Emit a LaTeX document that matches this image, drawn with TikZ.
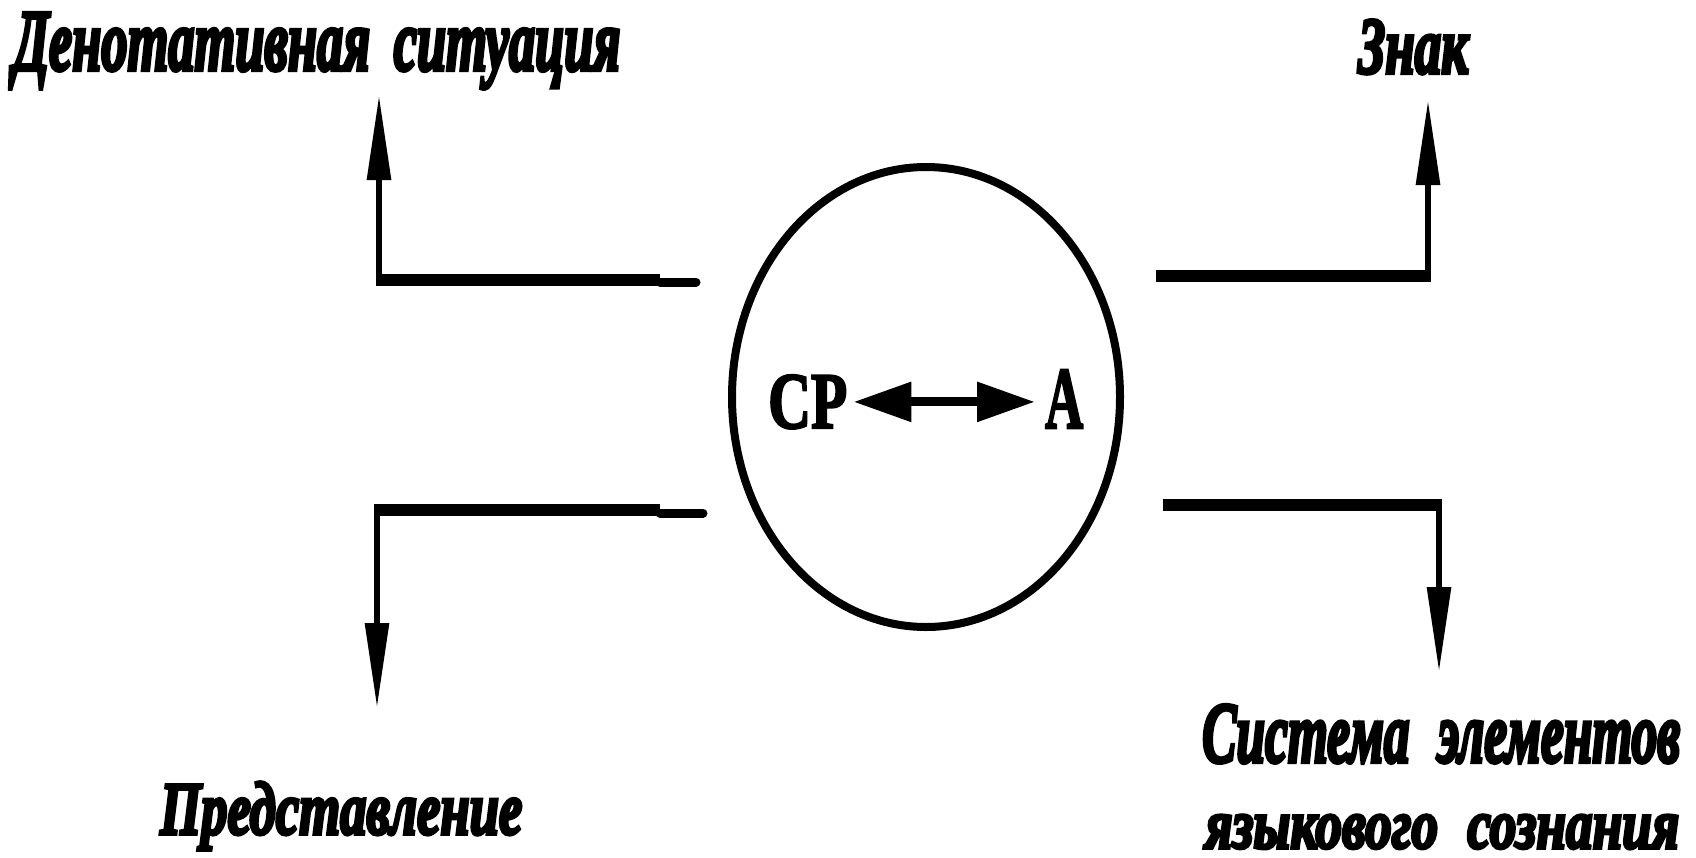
\documentclass[tikz,border=0pt]{standalone}
\usepackage{graphicx}
\usepackage{fontspec}
\setmainfont{Liberation Serif}
\newfontfamily\lblfont{Liberation Serif Bold Italic}[FakeBold=5]
\newfontfamily\ltrfont{Liberation Serif Bold}[FakeBold=3]
\usetikzlibrary{arrows.meta,shapes.geometric}
\tikzset{
  lbl/.style={anchor=base west, inner sep=0pt, font=\lblfont},
  ltr/.style={anchor=base west, inner sep=0pt, font=\ltrfont},
  hseg/.style={line width=12pt},
  vseg/.style={line width=6pt, -{Triangle[length=85pt,width=23pt]}},
  tipend/.style={line width=9pt, line cap=round},
  dbl/.style={line width=9pt, {Triangle[length=58pt,width=38pt]}-{Triangle[length=58pt,width=38pt]}},
  ring/.style={draw, ellipse, line width=8pt, minimum width=388pt, minimum height=460pt, inner sep=0pt}
}
\begin{document}
\begin{tikzpicture}[x=1pt,y=-1pt]
\path[fill=white,use as bounding box] (0,0) rectangle (1696,857);

% labels
\node[lbl] (den) at (13,70) {\resizebox{607pt}{57pt}{Денотативная\hspace{0.45em}ситуация}};
\node[lbl] (zn) at (1358,73) {\resizebox{110pt}{53pt}{Знак}};
\node[lbl] (pr) at (160,834) {\resizebox{362pt}{52pt}{Представление}};
\node[lbl] (sy1) at (1202,762) {\resizebox{478pt}{57pt}{Система\hspace{0.55em}элементов}};
\node[lbl] (sy2) at (1205,848) {\resizebox{474pt}{33pt}{языкового\hspace{0.55em}сознания}};

% circle
\node[ring] (c) at (926,397) {};
\node[ltr] (sr) at (768,428) {\resizebox{79pt}{53pt}{СР}};
\node[ltr] (a) at (1045,428) {\resizebox{38pt}{58pt}{А}};
\draw[dbl, shorten <=6pt, shorten >=10pt] (sr.east) -- (sr.east -| a.west);

% top-left
\coordinate (tlE) at (696,282);
\coordinate (tlS) at (660,280);
\coordinate (tlK) at (376,280);
\coordinate (tlV) at (379,283);
\coordinate (tlT) at (379,95);
\draw[tipend] (tlS |- tlE) -- (tlE);
\draw[hseg] (tlS) -- (tlK);
\draw[vseg] (tlV) -- (tlT);

% bottom-left
\coordinate (blE) at (703,513);
\coordinate (blS) at (660,510);
\coordinate (blK) at (374,510);
\coordinate (blV) at (377,507);
\coordinate (blT) at (377,708);
\draw[tipend] (blS |- blE) -- (blE);
\draw[hseg] (blS) -- (blK);
\draw[vseg] (blV) -- (blT);

% top-right
\coordinate (trS) at (1156,276);
\coordinate (trK) at (1431,276);
\coordinate (trV) at (1428,279);
\coordinate (trT) at (1428,100);
\draw[hseg] (trS) -- (trK);
\draw[vseg] (trV) -- (trT);

% bottom-right
\coordinate (brS) at (1163,505);
\coordinate (brK) at (1442,505);
\coordinate (brV) at (1439,502);
\coordinate (brT) at (1439,672);
\draw[hseg] (brS) -- (brK);
\draw[vseg] (brV) -- (brT);
\end{tikzpicture}
\end{document}
